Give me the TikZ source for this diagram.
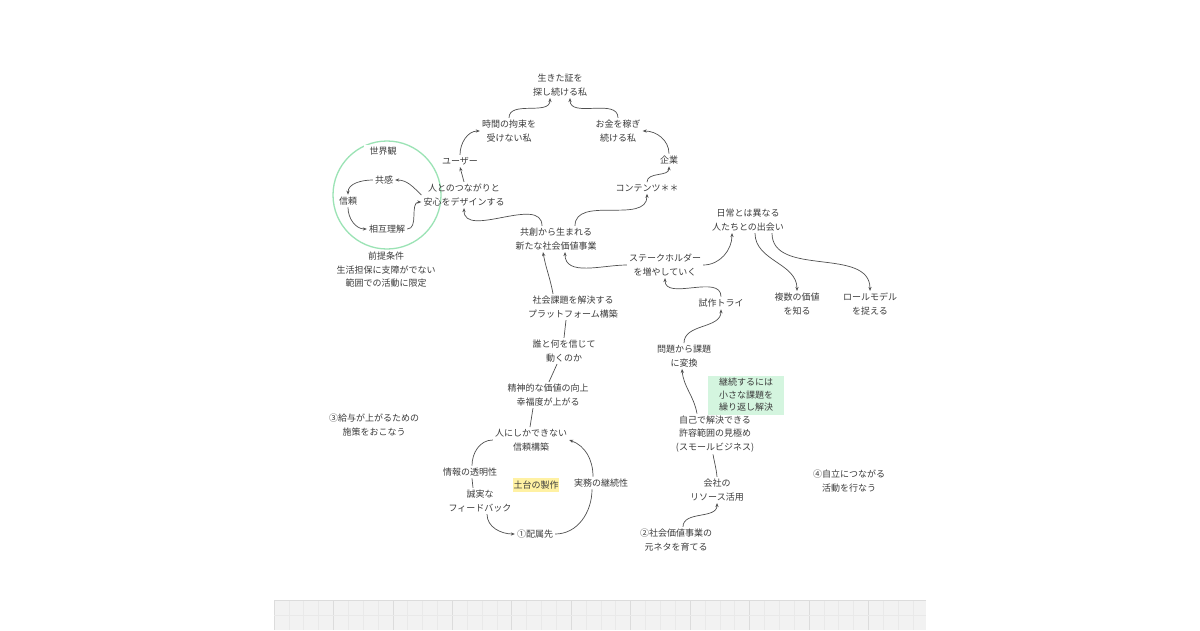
\documentclass[tikz,border=0pt]{standalone}
\usepackage{fontspec}
\setmainfont{Noto Sans CJK JP}
\usetikzlibrary{arrows.meta}
\definecolor{txtgrey}{HTML}{3C3C3C}
\definecolor{lngrey}{HTML}{505050}
\definecolor{ringgreen}{HTML}{9BE3B5}
\definecolor{boxgreen}{HTML}{D4F5DF}
\definecolor{hlyellow}{HTML}{FFF1A3}
\definecolor{gridfill}{HTML}{F2F2F2}
\definecolor{gridminor}{HTML}{E9E9E9}
\definecolor{gridmajor}{HTML}{DCDCDC}
\begin{document}
\begin{tikzpicture}[x=1pt,y=1pt,
  lbl/.style={align=center,text=txtgrey,font=\fontsize{9}{13.5}\selectfont,inner sep=2pt},
  ln/.style={draw=lngrey,line width=0.7pt},
  >={Stealth[length=4pt,width=3.2pt]}]
\useasboundingbox[fill=white] (0,0) rectangle (1200,-630);

\fill[gridfill] (274,-600) rectangle (926,-630);
\foreach \i in {0,...,43} \draw[gridminor,line width=0.6pt] (274+\i*14.86,-600) -- ++(0,-30);
\foreach \i in {0,...,10} \draw[gridmajor,line width=0.8pt] (274+\i*59.45,-600) -- ++(0,-30);
\draw[gridminor,line width=0.6pt] (274,-615) -- (926,-615);
\draw[gridmajor,line width=0.8pt] (274,-600) -- (926,-600);

\node[circle,draw=ringgreen,line width=1.3pt,minimum size=108pt] (ring) at (387,-195) {};
\node[lbl,fill=white,inner xsep=6pt] (sekaikan) at (383,-151) {世界観};
\node[lbl] (kyokan) at (384,-180) {共感};
\node[lbl] (shinrai) at (348,-201) {信頼};
\node[lbl] (sogo) at (387,-229) {相互理解};
\node[lbl] (zentei) at (386,-270) {前提条件\\生活担保に支障がでない\\範囲での活動に限定};

\node[lbl] (ikigai) at (560,-85) {生きた証を\\探し続ける私};
\node[lbl] (jikan) at (509,-131) {時間の拘束を\\受けない私};
\node[lbl] (okane) at (618,-131) {お金を稼ぎ\\続ける私};
\node[lbl] (user) at (460,-161) {ユーザー};
\node[lbl] (kigyo) at (669,-160) {企業};
\node[lbl] (design) at (464,-195) {人とのつながりと\\安心をデザインする};
\node[lbl] (contents) at (647,-188) {コンテンツ＊＊};
\node[lbl] (kyoso) at (556,-239) {共創から生まれる\\新たな社会価値事業};

\node[lbl] (deai) at (748,-220) {日常とは異なる\\人たちとの出会い};
\node[lbl] (stake) at (665,-265) {ステークホルダー\\を増やしていく};
\node[lbl] (shisaku) at (721,-303) {試作トライ};
\node[lbl] (fukusu) at (797,-304) {複数の価値\\を知る};
\node[lbl] (role) at (870,-304) {ロールモデル\\を捉える};
\node[lbl] (mondai) at (684,-356) {問題から課題\\に変換};
\node[lbl,fill=boxgreen,minimum width=76pt,minimum height=39pt,font=\fontsize{9}{12.5}\selectfont] (keizoku) at (746,-395) {継続するには\\小さな課題を\\繰り返し解決};
\node[lbl] (kyoyo) at (715,-434) {自己で解決できる\\許容範囲の見極め\\(スモールビジネス)};
\node[lbl] (resource) at (717,-490) {会社の\\リソース活用};
\node[lbl] (moto) at (676,-540) {②社会価値事業の\\元ネタを育てる};
\node[lbl] (jiritsu) at (849,-481) {④自立につながる\\活動を行なう};

\node[lbl] (platform) at (573,-307) {社会課題を解決する\\プラットフォーム構築};
\node[lbl] (dare) at (564,-351) {誰と何を信じて\\動くのか};
\node[lbl] (seishin) at (548,-395) {精神的な価値の向上\\幸福度が上がる};
\node[lbl] (hito) at (531,-440) {人にしかできない\\信頼構築};
\node[lbl] (toumei) at (470,-472) {情報の透明性};
\node[lbl] (seijitsu) at (480,-501) {誠実な\\フィードバック};
\node[lbl,fill=hlyellow,inner sep=0.5pt,minimum height=14pt] (dodai) at (536,-485) {土台の製作};
\node[lbl] (jitsumu) at (601,-483) {実務の継続性};
\node[lbl] (haizoku) at (535,-534) {①配属先};
\node[lbl] (kyuyo) at (374,-425) {③給与が上がるための\\施策をおこなう};

\path[draw,ln,->] (jikan.north) to[out=90,in=-90] ([xshift=-10pt]ikigai.south);
\path[draw,ln,->] (okane.north) to[out=90,in=-90] ([xshift=10pt]ikigai.south);
\path[draw,ln,->] (user.north) to[out=90,in=180] (jikan.west);
\path[draw,ln,->] (kigyo.north) to[out=90,in=0] (okane.east);
\path[draw,ln,->] (design.north) -- (user.south);
\path[draw,ln,->] (contents.north) to[out=90,in=-90] (kigyo.south);
\path[draw,ln,->] ([xshift=-14pt]kyoso.north) to[out=90,in=-90] (design.south);
\path[draw,ln,->] ([xshift=19pt]kyoso.north) to[out=90,in=-90] (contents.south);

\path[draw,ln,->] (design.west) to[out=135,in=0] (kyokan.east);
\path[draw,ln,->] (kyokan.west) to[out=180,in=90] (shinrai.north);
\path[draw,ln,->] (shinrai.south) to[out=-90,in=180] (sogo.west);
\path[draw,ln,->] (sogo.east) to[out=0,in=180] ([yshift=-7pt]design.west);

\path[draw,ln,->] (stake.west) to[out=180,in=-90] ([xshift=9pt]kyoso.south);
\path[draw,ln,->] (stake.east) to[out=0,in=-90] ([xshift=-16pt]deai.south);
\path[draw,ln,->] ([xshift=7pt]deai.south) to[out=-90,in=90] (fukusu.north);
\path[draw,ln,->] ([xshift=24pt]deai.south) to[out=-90,in=90] (role.north);
\path[draw,ln,->] (shisaku.north) to[out=90,in=-90] (stake.south);
\path[draw,ln,->] (mondai.north) to[out=90,in=-90] (shisaku.south);
\path[draw,ln,->] ([xshift=-18pt]kyoyo.north) to[out=100,in=-85] ([xshift=-2pt]mondai.south);
\path[draw,ln] (resource.north) to[out=95,in=-80] ([xshift=-2pt]kyoyo.south);
\path[draw,ln,->] ([xshift=7pt]moto.north) to[out=90,in=-90] (resource.south);

\path[draw,ln,->] ([xshift=-20pt]platform.north) to[out=100,in=-80] ([xshift=-13pt]kyoso.south);
\path[draw,ln] (dare.north) -- ([xshift=-7pt]platform.south);
\path[draw,ln] ([xshift=1pt]seishin.north) -- ([xshift=-7pt]dare.south);
\path[draw,ln] ([xshift=-1pt]hito.north) -- ([xshift=-15pt]seishin.south);

\path[draw,ln] (hito.west) to[out=180,in=90] ([xshift=2pt]toumei.north);
\path[draw,ln] ([xshift=2pt]toumei.south) to[out=-85,in=95] ([xshift=-7pt]seijitsu.north);
\path[draw,ln,->] ([xshift=7pt]seijitsu.south) to[out=-90,in=180] (haizoku.west);
\path[draw,ln] (haizoku.east) to[out=0,in=-90] ([xshift=-9pt]jitsumu.south);
\path[draw,ln,->] ([xshift=-8pt]jitsumu.north) to[out=90,in=-20] (hito.east);
\end{tikzpicture}
\end{document}
